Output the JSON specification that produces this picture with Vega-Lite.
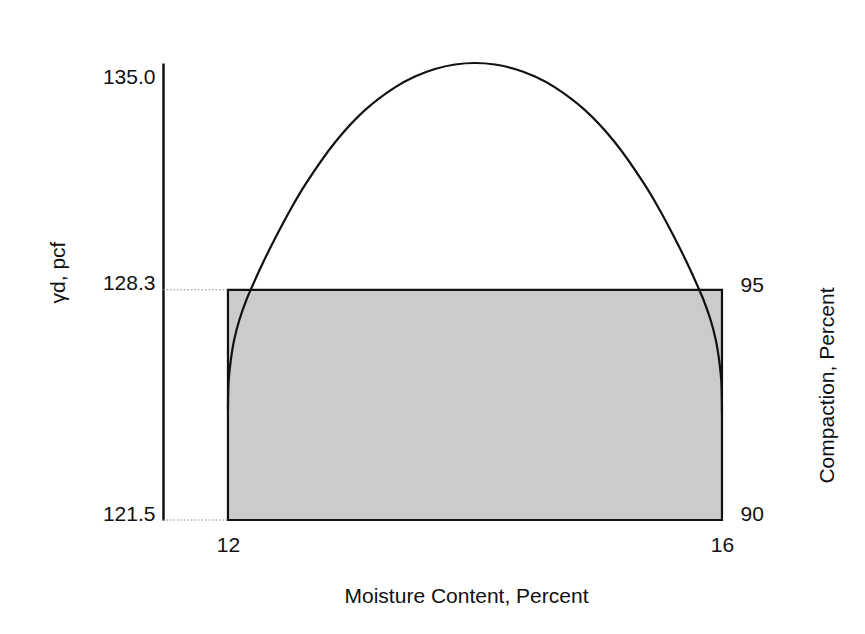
{
  "$schema": "https://vega.github.io/schema/vega-lite/v6.json",
  "width": 567,
  "height": 457,
  "autosize": {"type": "none"},
  "padding": {"left": 163, "top": 63, "right": 135, "bottom": 114},
  "background": "white",
  "config": {
    "view": {"stroke": null},
    "font": "Liberation Sans",
    "axis": {
      "labelFont": "Liberation Sans",
      "titleFont": "Liberation Sans",
      "labelColor": "#111",
      "titleColor": "#111",
      "titleFontWeight": "normal",
      "labelFontSize": 21,
      "titleFontSize": 21,
      "grid": false
    }
  },
  "layer": [
    {
      "layer": [
        {
          "data": {"values": [{"m": 12, "m2": 16, "d": 121.5, "d2": 128.3}]},
          "mark": {"type": "rect", "fill": "#cbcbcb", "stroke": "#111", "strokeWidth": 2.2},
          "encoding": {
            "x": {
              "field": "m", "type": "quantitative",
              "scale": {"domain": [11.474, 16.065], "nice": false, "zero": false},
              "axis": {"values": [12, 16], "format": "d", "title": "Moisture Content, Percent", "domain": false, "ticks": false, "labelPadding": 14, "titlePadding": 30, "titleX": 303}
            },
            "x2": {"field": "m2"},
            "y": {
              "field": "d", "type": "quantitative",
              "scale": {"domain": [121.5, 135], "nice": false, "zero": false},
              "axis": {
                "values": [121.5, 128.3, 135], "format": ".1f", "title": "γd,  pcf",
                "ticks": false, "domainColor": "#111", "domainWidth": 2.5,
                "labelPadding": 8, "labelBaseline": "alphabetic",
                "labelOffset": {"condition": {"test": "datum.value == 135", "value": 20}, "value": 0},
                "titlePadding": 34, "titleY": 209
              }
            },
            "y2": {"field": "d2"}
          }
        },
        {
          "data": {"values": [
            {"m": 11.474, "m2": 12, "d": 128.3},
            {"m": 11.474, "m2": 12, "d": 121.5}
          ]},
          "mark": {"type": "rule", "color": "#888", "strokeWidth": 1, "strokeDash": [1.5, 2]},
          "encoding": {
            "x": {"field": "m", "type": "quantitative"},
            "x2": {"field": "m2"},
            "y": {"field": "d", "type": "quantitative"}
          }
        },
        {
          "data": {"values": [
            {"m": 12.000, "d": 124.750},
            {"m": 12.001, "d": 125.045},
            {"m": 12.006, "d": 125.636},
            {"m": 12.023, "d": 126.227},
            {"m": 12.050, "d": 126.818},
            {"m": 12.092, "d": 127.408},
            {"m": 12.149, "d": 127.999},
            {"m": 12.202, "d": 128.451},
            {"m": 12.291, "d": 129.157},
            {"m": 12.381, "d": 129.816},
            {"m": 12.502, "d": 130.643},
            {"m": 12.623, "d": 131.391},
            {"m": 12.866, "d": 132.652},
            {"m": 13.109, "d": 133.606},
            {"m": 13.352, "d": 134.280},
            {"m": 13.514, "d": 134.599},
            {"m": 13.676, "d": 134.823},
            {"m": 13.838, "d": 134.956},
            {"m": 14.000, "d": 135.000},
            {"m": 14.162, "d": 134.956},
            {"m": 14.324, "d": 134.823},
            {"m": 14.486, "d": 134.599},
            {"m": 14.648, "d": 134.280},
            {"m": 14.891, "d": 133.606},
            {"m": 15.134, "d": 132.652},
            {"m": 15.377, "d": 131.391},
            {"m": 15.498, "d": 130.643},
            {"m": 15.619, "d": 129.816},
            {"m": 15.709, "d": 129.157},
            {"m": 15.798, "d": 128.451},
            {"m": 15.851, "d": 127.999},
            {"m": 15.908, "d": 127.408},
            {"m": 15.950, "d": 126.818},
            {"m": 15.977, "d": 126.227},
            {"m": 15.994, "d": 125.636},
            {"m": 15.999, "d": 125.045},
            {"m": 16.000, "d": 124.660}
          ]},
          "mark": {"type": "line", "color": "#111", "strokeWidth": 2.2, "interpolate": "catmull-rom"},
          "encoding": {
            "x": {"field": "m", "type": "quantitative"},
            "y": {"field": "d", "type": "quantitative"}
          }
        }
      ]
    },
    {
      "data": {"values": [{"c": 90}, {"c": 95}]},
      "mark": {"type": "point", "opacity": 0},
      "encoding": {
        "y": {
          "field": "c", "type": "quantitative",
          "scale": {"domain": [90, 100], "nice": false, "zero": false},
          "axis": {
            "orient": "right", "values": [90, 95], "domain": false, "ticks": false,
            "labelPadding": 10, "labelBaseline": "alphabetic",
            "title": "Compaction, Percent", "titleAngle": -90, "titlePadding": 74, "titleY": 322
          }
        }
      }
    }
  ],
  "resolve": {"scale": {"y": "independent"}}
}
